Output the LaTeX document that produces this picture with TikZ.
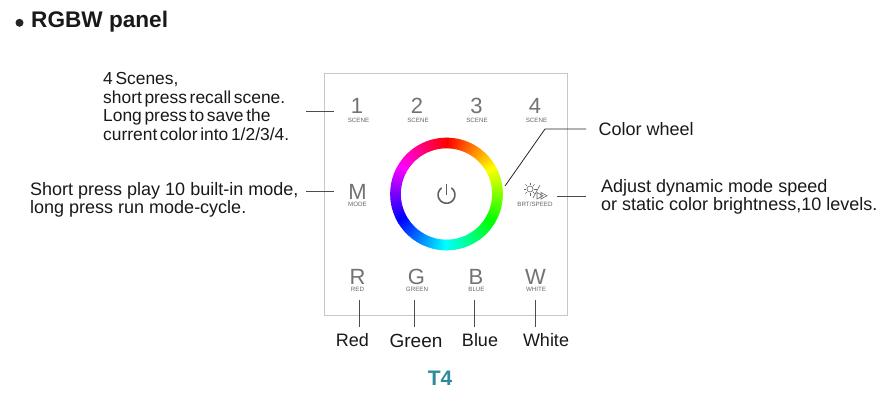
\documentclass[tikz,border=0pt]{standalone}
\usepackage{fontspec}
\setmainfont{Liberation Sans}
\newfontfamily\tightfont[WordSpace=0.55]{Liberation Sans}
\tikzset{
  x=1pt,y=-1pt,
  callout/.style={inner sep=0pt,anchor=north west,align=left,text=black!90,font=\fontsize{18}{18.4}\selectfont},
  tight/.style={font=\tightfont\fontsize{17.4}{18.4}\selectfont},
  lab/.style={inner sep=0pt,text=black!90,font=\fontsize{18}{18}\selectfont},
  key/.style={inner sep=0pt,text=black!55,font=\fontsize{22}{22}\selectfont},
  sub/.style={inner sep=0pt,text=black!60,font=\fontsize{6.2}{7}\selectfont},
  lead/.style={draw=black!70,line width=0.8pt},
  icon/.style={draw=black!60,line width=0.6pt},
  pow/.style={draw=black!62,line width=1.6pt},
}
\begin{document}
\begin{tikzpicture}
\useasboundingbox (0,0) rectangle (893,415);
\fill[white] (0,0) rectangle (893,415);
% heading
\node[circle,fill=black!85,inner sep=0pt,minimum size=8pt] (bullet) at (19.5,22.8) {};
\node[inner sep=0pt,anchor=west,font=\bfseries\fontsize{22.6}{24}\selectfont,text=black!90] (title) at (31,21.5) {RGBW panel};
% panel
\node[draw=black!22,line width=1pt,minimum width=243pt,minimum height=242.5pt,inner sep=0pt] (panel) at (446.2,194.4) {};
% wheel
\foreach \a in {0,2,...,358}{
  \definecolor{wc}{Hsb}{\a,1,1}
  \fill[wc] ({446.5+56.3*sin(\a)},{194-56.3*cos(\a)})
     -- ({446.5+56.3*sin(\a+1)},{194-56.3*cos(\a+1)})
     -- ({446.5+56.3*sin(\a+2.6)},{194-56.3*cos(\a+2.6)})
     -- ({446.5+45.7*sin(\a+2.6)},{194-45.7*cos(\a+2.6)})
     -- ({446.5+45.7*sin(\a)},{194-45.7*cos(\a)}) -- cycle;
}
% power icon
\draw[pow] plot[smooth,domain=35:325,samples=40] ({446.5+8.4*sin(\x)},{194.8-8.4*cos(\x)});
\draw[pow] (446.5,184) -- (446.5,194.5);
% keys
\node[key] (k1) at (357,106) {1};
\node[key] (k2) at (417,106) {2};
\node[key] (k3) at (476.5,106) {3};
\node[key] (k4) at (535,106) {4};
\node[sub] (s1) at (358.5,120.5) {SCENE};
\node[sub] (s2) at (418,120.5) {SCENE};
\node[sub] (s3) at (477,120.5) {SCENE};
\node[sub] (s4) at (536.5,120.5) {SCENE};
\node[key] (kM) at (357.5,191.5) {M};
\node[sub] (sM) at (357.5,204) {MODE};
\node[sub] (sB) at (535,204) {BRT/SPEED};
\node[key] (kR) at (357.5,277) {R};
\node[key] (kG) at (416.5,277) {G};
\node[key] (kB) at (476,277) {B};
\node[key] (kW) at (535.5,277) {W};
\node[sub] (sR) at (357.5,289.5) {RED};
\node[sub] (sG) at (417,289.5) {GREEN};
\node[sub] (sBl) at (476.5,289.5) {BLUE};
\node[sub] (sW) at (536,289.5) {WHITE};
% brightness icon
\draw[icon] (530,189) circle[radius=3];
\foreach \a in {0,45,...,315}{
  \draw[icon,line width=0.5pt] ({530+4*cos(\a)},{189+4*sin(\a)}) -- ({530+6.5*cos(\a)},{189+6.5*sin(\a)});
}
\draw[icon] (533,198) -- (540,185);
\draw[icon] (537,192.5) -- (537,199) -- (543,195.8) -- cycle;
\draw[icon] (541,192.5) -- (541,199) -- (547,195.8) -- cycle;
% callout text
\node[callout,tight] (t1) at (103,72.5) {4 Scenes,\\short press recall scene.\\Long press to save the\\current color into 1/2/3/4.};
\node[callout] (t2) at (30,182) {Short press play 10 built-in mode,\\long press run mode-cycle.};
\node[callout,anchor=west] (t3) at (598.5,129) {Color wheel};
\node[callout] (t4) at (601,179) {Adjust dynamic mode speed\\or static color brightness,10 levels.};
% leader anchors
\coordinate (a1) at (306,111); \coordinate (b1) at (334,111);
\coordinate (a2) at (306,191.5); \coordinate (b2) at (334,191.5);
\coordinate (a3) at (505,186); \coordinate (m3) at (545,129); \coordinate (b3) at (586,129);
\coordinate (a4) at (557,196); \coordinate (b4) at (586,196);
\draw[lead] (a1) -- (b1);
\draw[lead] (a2) -- (b2);
\draw[lead,draw=black!85] (a3) -- (m3) -- (b3);
\draw[lead] (a4) -- (b4);
% bottom labels
\node[lab] (lR) at (352.5,340) {Red};
\node[lab,font=\fontsize{19}{20}\selectfont] (lG) at (416,340.5) {Green};
\node[lab] (lB) at (480,340) {Blue};
\node[lab] (lW) at (546,340) {White};
\coordinate (tR) at (359.5,300); \coordinate (bR) at (359.5,327);
\coordinate (tG) at (414.5,300); \coordinate (bG) at (414.5,327);
\coordinate (tB) at (474,300); \coordinate (bB) at (474,327);
\coordinate (tW) at (535,300); \coordinate (bW) at (535,327);
\draw[lead] (tR) -- (bR);
\draw[lead] (tG) -- (bG);
\draw[lead] (tB) -- (bB);
\draw[lead] (tW) -- (bW);
\node[inner sep=0pt,font=\bfseries\fontsize{21}{22}\selectfont,text={rgb,255:red,47;green,138;blue,158}] (model) at (440,378) {T4};
\end{tikzpicture}
\end{document}
